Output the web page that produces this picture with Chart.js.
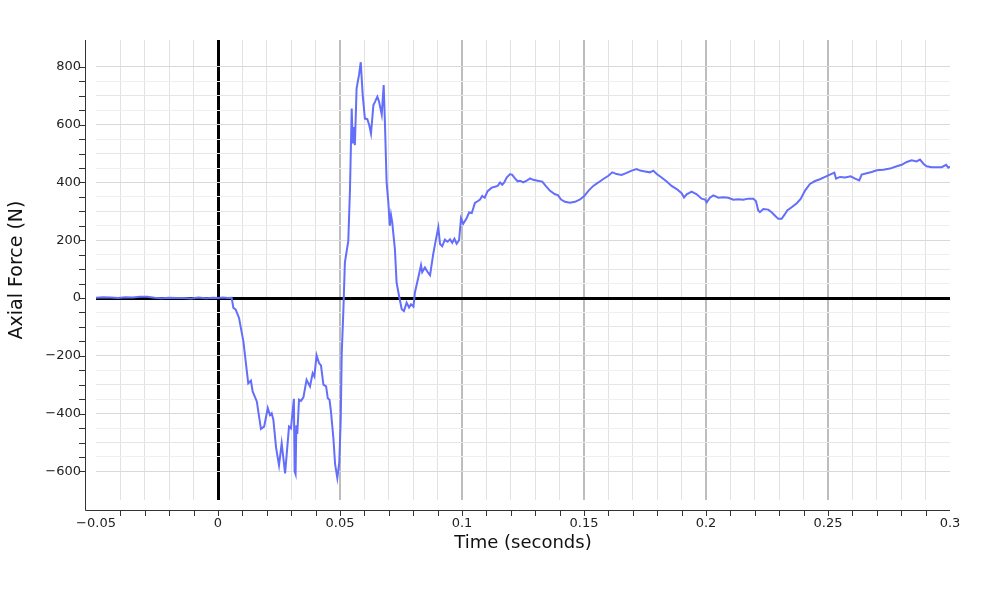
<!DOCTYPE html>
<html>
<head>
<meta charset="utf-8">
<script src="https://cdn.jsdelivr.net/npm/chart.js@4.4.1/dist/chart.umd.min.js"></script>
<style>
  html, body { margin: 0; padding: 0; background: #fff; }
</style>
</head>
<body>
<canvas id="forceChart" width="1000" height="600"></canvas>
<script>
// time (s) and axial force (N)
var times = [
  -0.050, -0.047, -0.044, -0.041, -0.038, -0.035, -0.032, -0.029, -0.026, -0.023,
  -0.020, -0.017, -0.014, -0.011, -0.008, -0.005, -0.002, 0.000, 0.002, 0.004,
  0.0056, 0.0063, 0.0072, 0.0086, 0.0104, 0.0124, 0.0135, 0.0142, 0.0159, 0.0176,
  0.0189, 0.0204, 0.0213, 0.0220, 0.0227, 0.0238, 0.0250, 0.0261, 0.0275, 0.0291,
  0.0299, 0.0311, 0.0314, 0.0318, 0.0321, 0.0325, 0.0332, 0.0340, 0.0350, 0.0363,
  0.0377, 0.0388, 0.0395, 0.0404, 0.0414, 0.0422, 0.0432, 0.0443, 0.0450, 0.0457,
  0.0463, 0.0473, 0.0480, 0.0489, 0.0497, 0.0503, 0.0507, 0.0514, 0.0520, 0.0534,
  0.0541, 0.0548, 0.0552, 0.0557, 0.0561, 0.0568, 0.0578, 0.0585, 0.0593, 0.0602,
  0.0612, 0.0620, 0.0627, 0.0637, 0.0643, 0.0653, 0.0660, 0.0671, 0.0679, 0.0684,
  0.0691, 0.0698, 0.0704, 0.0709, 0.0714, 0.0725, 0.0732, 0.0742, 0.0753, 0.0762,
  0.0773, 0.0783, 0.0791, 0.0801, 0.0807, 0.0821, 0.0832, 0.0837, 0.0848, 0.0859,
  0.0869, 0.0882, 0.0892, 0.0903, 0.0910, 0.0919, 0.0930, 0.0941, 0.0951, 0.0960,
  0.0969, 0.0978, 0.0988, 0.0996, 0.1005, 0.1019, 0.1029, 0.1040, 0.1053, 0.1064,
  0.1074, 0.1083, 0.1093, 0.1105, 0.1122, 0.1135, 0.1146, 0.1156, 0.1165, 0.1173,
  0.1183, 0.1197, 0.1206, 0.1217, 0.1228, 0.1238, 0.1251, 0.1265, 0.1279, 0.1292,
  0.1310, 0.1329, 0.1343, 0.1361, 0.1381, 0.1393, 0.1406, 0.1422, 0.1443, 0.1463,
  0.1484, 0.1501, 0.1518, 0.1538, 0.1559, 0.1579, 0.1600, 0.1616, 0.1634, 0.1654,
  0.1675, 0.1695, 0.1716, 0.1730, 0.1750, 0.1770, 0.1784, 0.1798, 0.1818, 0.1839,
  0.1859, 0.1880, 0.1900, 0.1910, 0.1921, 0.1941, 0.1962, 0.1982, 0.1996, 0.2003,
  0.2016, 0.2030, 0.2051, 0.2071, 0.2091, 0.2112, 0.2132, 0.2153, 0.2173, 0.2194,
  0.2205, 0.2214, 0.2221, 0.2235, 0.2255, 0.2269, 0.2283, 0.2296, 0.2310, 0.2324,
  0.2333, 0.2351, 0.2372, 0.2388, 0.2406, 0.2426, 0.2447, 0.2467, 0.2488, 0.2508,
  0.2526, 0.2533, 0.2549, 0.2570, 0.2593, 0.2611, 0.2628, 0.2638, 0.2659, 0.2679,
  0.2700, 0.2727, 0.2754, 0.2782, 0.2802, 0.2823, 0.2843, 0.2863, 0.2877, 0.2891,
  0.2904, 0.2925, 0.2945, 0.2966, 0.2984, 0.2993, 0.3000
];
var force = [
  1, 3, 2, 0, 3, 2, 4, 4, 1, -1,
  1, 0, 0, -2, 2, -1, 1, 0, 2, 0,
  1, -34, -39, -68, -150, -295, -286, -323, -358, -453,
  -445, -381, -405, -399, -422, -518, -579, -503, -607, -445,
  -451, -349, -600, -610, -440, -470, -352, -356, -344, -283,
  -306, -260, -271, -198, -225, -233, -300, -306, -347, -352,
  -393, -486, -576, -623, -569, -420, -195, -39, 123, 198,
  378, 656, 535, 592, 529, 726, 772, 816, 703, 621,
  619, 598, 569, 668, 678, 697, 680, 635, 737, 610,
  401, 332, 250, 288, 262, 169, 53, 7, -39, -45,
  -16, -33, -22, -30, 19, 71, 114, 90, 106, 90,
  79, 152, 198, 245, 187, 179, 202, 195, 203, 191,
  205, 188, 200, 276, 257, 276, 296, 294, 329, 335,
  341, 353, 347, 370, 382, 385, 388, 400, 392, 400,
  417, 429, 426, 414, 404, 406, 400, 406, 414, 409,
  406, 403, 388, 371, 359, 356, 341, 333, 330, 333,
  341, 353, 371, 388, 400, 412, 423, 435, 429, 426,
  433, 441, 446, 441, 438, 435, 441, 429, 417, 403,
  388, 377, 363, 348, 359, 368, 359, 344, 341, 331,
  347, 355, 347, 349, 347, 340, 342, 340, 344, 344,
  335, 303, 297, 308, 306, 297, 285, 274, 274, 291,
  303, 314, 328, 343, 372, 395, 405, 411, 419, 427,
  434, 413, 419, 417, 421, 413, 407, 427, 432, 436,
  442, 444, 448, 456, 461, 471, 477, 473, 479, 465,
  456, 453, 453, 453, 461, 451, 455
];

var xMin = -0.05, xMax = 0.3;
var yMin = -699, yMax = 893;
var xLabelStep = 0.05;
var yLabelStep = 200;

var points = times.map(function (t, i) { return {x: t, y: force[i]}; });

function fmt(v) {
  var s = String(Math.round(v * 1000) / 1000);
  return s.charAt(0) === '-' ? '\u2212' + s.slice(1) : s;
}

// plotly-like axis lines sitting a little outside the plot, with outside ticks
var axisLines = {
  id: 'axisLines',
  afterDraw: function (chart) {
    var ctx = chart.ctx, a = chart.chartArea;
    var xs = chart.scales.x, ys = chart.scales.y;
    var lx = a.left - 11, by = a.bottom + 10;
    ctx.save();
    ctx.strokeStyle = '#333';
    ctx.lineWidth = 1;
    ctx.beginPath();
    ctx.moveTo(lx + 0.5, a.top);
    ctx.lineTo(lx + 0.5, by + 0.5);
    ctx.lineTo(a.right, by + 0.5);
    xs.ticks.forEach(function (t) {
      if (t.value <= xMin + 1e-6 || t.value >= xMax - 1e-6) return;
      var px = Math.round(xs.getPixelForValue(t.value)) + 0.5;
      ctx.moveTo(px, by);
      ctx.lineTo(px, by + 6);
    });
    ys.ticks.forEach(function (t) {
      if (Math.abs(t.value % 50) > 1e-6) return;
      var py = Math.round(ys.getPixelForValue(t.value)) + 0.5;
      ctx.moveTo(lx, py);
      ctx.lineTo(lx - 6, py);
    });
    ctx.stroke();
    ctx.restore();
  }
};

new Chart(document.getElementById('forceChart'), {
  type: 'line',
  data: {
    datasets: [{
      data: points,
      borderColor: '#636efa',
      borderWidth: 2,
      pointRadius: 0,
      tension: 0,
      fill: false
    }]
  },
  options: {
    responsive: false,
    animation: false,
    devicePixelRatio: 1,
    layout: {padding: {left: 0, right: 50, top: 40, bottom: 0}},
    plugins: {legend: {display: false}, tooltip: {enabled: false}},
    scales: {
      x: {
        type: 'linear',
        min: xMin,
        max: xMax,
        border: {display: false},
        afterFit: function (s) { s.height = 100; },
        grid: {
          drawTicks: false,
          color: function (c) {
            var v = c.tick.value;
            if (v <= xMin + 1e-6 || v >= xMax - 1e-6) return 'rgba(0,0,0,0)';
            if (Math.abs(v) < 1e-9) return '#000';
            var k = Math.round(v * 100);
            return k % 5 === 0 ? '#bdbdbd' : '#e2e2e2';
          },
          lineWidth: function (c) {
            var v = c.tick.value;
            if (Math.abs(v) < 1e-9) return 3;
            return Math.round(v * 100) % 5 === 0 ? 2 : 1;
          }
        },
        ticks: {
          stepSize: 0.01,
          autoSkip: false,
          maxRotation: 0,
          padding: 16,
          color: '#222',
          font: {family: 'DejaVu Sans', size: 13},
          callback: function (v) {
            var k = Math.round(v * 100);
            return k % Math.round(xLabelStep * 100) === 0 ? fmt(v) : '';
          }
        },
        title: {
          display: true,
          text: 'Time (seconds)',
          color: '#111',
          font: {family: 'DejaVu Sans', size: 18},
          padding: {top: 0, bottom: 46}
        }
      },
      y: {
        type: 'linear',
        min: yMin,
        max: yMax,
        border: {display: false},
        afterFit: function (s) { s.width = 96; },
        grid: {
          drawTicks: false,
          color: function (c) {
            var v = c.tick.value;
            if (Math.abs(v % 50) > 1e-6) return 'rgba(0,0,0,0)';
            if (v === 0) return '#000';
            if (v % 200 === 0) return '#d9d9d9';
            if (v % 100 === 0) return '#e6e6e6';
            return '#efefef';
          },
          lineWidth: function (c) {
            return c.tick.value === 0 ? 3 : 1;
          }
        },
        ticks: {
          stepSize: 50,
          autoSkip: false,
          padding: 15,
          color: '#222',
          font: {family: 'DejaVu Sans', size: 13},
          callback: function (v) {
            return v % yLabelStep === 0 ? fmt(v) : '';
          }
        },
        title: {
          display: true,
          text: 'Axial Force (N)',
          color: '#111',
          font: {family: 'DejaVu Sans', size: 19},
          padding: {top: 6, bottom: 0}
        }
      }
    }
  },
  plugins: [axisLines]
});
</script>
</body>
</html>
